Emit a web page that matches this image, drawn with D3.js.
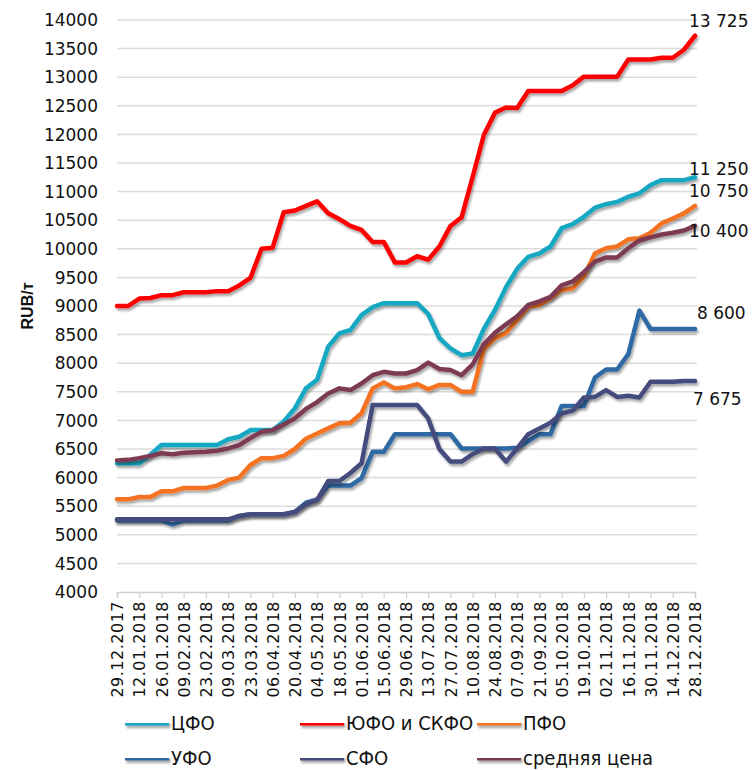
<!DOCTYPE html>
<html>
<head>
  <meta charset="UTF-8">
  <title>RUB/т</title>
  <style>
    body { margin: 0; background: #fff; }
    .ylab, .endlab { font-family: 'DejaVu Sans', sans-serif; font-size: 17px; fill: #111; }
    .xlab { font-family: 'DejaVu Sans', sans-serif; font-size: 16px; fill: #111; letter-spacing: 0.5px; }
    .legend text { font-family: 'Liberation Sans Narrow', 'DejaVu Sans Condensed', sans-serif; font-size: 20px; fill: #111; }
    .ytitle { font-family: 'Liberation Sans', sans-serif; font-weight: bold; font-size: 16px; fill: #111; }
    .grid line { stroke: #dcdcdc; stroke-width: 1.5; }
    .series { fill: none; stroke-width: 4.5; stroke-linejoin: round; stroke-linecap: round; }
  </style>
</head>
<body>
  <script src="https://d3js.org/d3.v7.min.js"></script>
  <script>
    // weekly points, 29.12.2017 .. 28.12.2018
    var tickLabels = ["29.12.2017", "12.01.2018", "26.01.2018", "09.02.2018", "23.02.2018", "09.03.2018",
      "23.03.2018", "06.04.2018", "20.04.2018", "04.05.2018", "18.05.2018", "01.06.2018", "15.06.2018",
      "29.06.2018", "13.07.2018", "27.07.2018", "10.08.2018", "24.08.2018", "07.09.2018", "21.09.2018",
      "05.10.2018", "19.10.2018", "02.11.2018", "16.11.2018", "30.11.2018", "14.12.2018", "28.12.2018"];

    var cfo = [6250,6250,6250,6400,6570,6570,6570,6570,6570,6570,6670,6715,6830,6830,6830,6980,7210,7560,7710,8290,
      8520,8580,8840,8980,9050,9050,9050,9050,8860,8440,8260,8140,8170,8600,8930,9330,9650,9860,9920,10040,
      10360,10430,10560,10720,10780,10820,10910,10970,11115,11200,11200,11200,11250];
    var yufo = [9000,9000,9130,9140,9190,9190,9240,9240,9240,9260,9260,9360,9490,10000,10020,10640,10670,10750,10830,10620,
      10520,10400,10330,10120,10120,9760,9760,9870,9810,10040,10400,10550,11260,11990,12380,12470,12460,12760,12760,12760,
      12760,12860,13010,13010,13010,13010,13310,13310,13310,13340,13340,13480,13725];
    var pfo = [5620,5620,5660,5660,5760,5760,5820,5820,5820,5860,5960,6000,6220,6340,6340,6380,6500,6680,6770,6860,
      6950,6960,7125,7560,7665,7560,7580,7635,7545,7620,7620,7500,7500,8250,8440,8530,8760,8990,9020,9140,
      9280,9310,9520,9920,10010,10040,10165,10185,10280,10445,10530,10620,10750];
    var ufo = [5250,5250,5250,5250,5250,5180,5250,5250,5250,5250,5250,5330,5360,5360,5360,5360,5400,5560,5620,5860,
      5860,5860,5990,6450,6450,6760,6760,6760,6760,6760,6760,6510,6510,6510,6510,6510,6520,6640,6760,6760,
      7250,7250,7250,7750,7890,7890,8160,8920,8600,8600,8600,8600,8600];
    var sfo = [5270,5270,5270,5270,5270,5270,5270,5270,5270,5270,5270,5330,5360,5360,5360,5360,5400,5530,5610,5940,
      5940,6080,6250,7270,7270,7270,7270,7270,7035,6500,6280,6280,6410,6510,6510,6280,6510,6760,6860,6960,
      7120,7170,7400,7410,7530,7410,7430,7400,7675,7675,7675,7690,7690];
    var avg = [6300,6310,6340,6380,6425,6410,6435,6445,6450,6470,6510,6570,6690,6800,6830,6930,7035,7200,7320,7470,
      7560,7530,7645,7790,7850,7820,7820,7880,8010,7900,7880,7790,7980,8330,8530,8680,8820,9020,9080,9160,
      9360,9430,9590,9775,9850,9850,10010,10150,10200,10250,10280,10320,10400];

    var seriesNames = ["ЦФО", "ЮФО и СКФО", "ПФО", "УФО", "СФО", "средняя цена"];
    var seriesColors = ["#17a7c2", "#ff0000", "#f47320", "#2f69a3", "#454b7c", "#7c3b52"];
    var endLabels = ["11 250", "13 725", "10 750", "8 600", "7 675", "10 400"];
    var yTicks = d3.range(4000, 14001, 500);

    var series = [cfo, yufo, pfo, ufo, sfo, avg];

    var width = 755, height = 770;
    var margin = {top: 20, right: 60, bottom: 178, left: 117};

    var svg = d3.select("body").append("svg")
        .attr("width", width)
        .attr("height", height);

    // soft shadow under the lines, user space so flat legend lines keep it too
    var f = svg.append("defs").append("filter").attr("id", "shadow")
        .attr("filterUnits", "userSpaceOnUse")
        .attr("x", 0).attr("y", 0).attr("width", width).attr("height", height);
    f.append("feDropShadow")
        .attr("dx", 1.5).attr("dy", 2.5).attr("stdDeviation", 1.3)
        .attr("flood-color", "#000").attr("flood-opacity", 0.35);

    var x = d3.scaleLinear().domain([0, cfo.length - 1]).range([margin.left, width - margin.right]);
    var y = d3.scaleLinear().domain([4000, 14000]).range([height - margin.bottom, margin.top]);

    // grid
    svg.append("g").attr("class", "grid")
      .selectAll("line").data(yTicks.slice(1)).enter().append("line")
        .attr("x1", margin.left).attr("x2", width - margin.right + 2)
        .attr("y1", function(d) { return y(d); }).attr("y2", function(d) { return y(d); });

    // y labels
    svg.append("g").selectAll("text").data(yTicks).enter().append("text")
        .attr("class", "ylab")
        .attr("x", 98)
        .attr("y", function(d) { return y(d); })
        .attr("dy", "0.36em")
        .attr("text-anchor", "end")
        .text(function(d) { return d; });

    svg.append("text").attr("class", "ytitle")
        .attr("transform", "translate(33," + y(9000) + ") rotate(-90)")
        .attr("text-anchor", "middle")
        .text("RUB/т");

    // x axis
    var tickIdx = tickLabels.map(function(d, i) { return i * 2; });
    var xAxis = d3.axisBottom(x).tickValues(tickIdx).tickSize(6)
        .tickFormat(function(d) { return tickLabels[d / 2]; });
    var gx = svg.append("g")
        .attr("transform", "translate(0," + y(4000) + ")")
        .call(xAxis);
    gx.select(".domain").attr("stroke", "#d0d0d0").attr("stroke-width", 1.5);
    gx.selectAll(".tick line").attr("stroke", "#d0d0d0").attr("stroke-width", 1.2);
    gx.selectAll(".tick text")
        .attr("class", "xlab")
        .attr("transform", "rotate(-90)")
        .attr("x", -9).attr("y", 0).attr("dy", "0.36em")
        .style("text-anchor", "end");

    // lines
    var line = d3.line()
        .x(function(d, i) { return x(i); })
        .y(function(d) { return y(d); });

    svg.append("g").selectAll("path").data(series).enter().append("path")
        .attr("class", "series")
        .attr("filter", "url(#shadow)")
        .attr("stroke", function(d, i) { return seriesColors[i]; })
        .attr("d", line);

    // end labels
    var endPos = [[689, 175], [689, 27], [689, 197], [697, 319], [693, 405], [689, 237]];
    svg.append("g").selectAll("text").data(endLabels).enter().append("text")
        .attr("class", "endlab")
        .attr("x", function(d, i) { return endPos[i][0]; })
        .attr("y", function(d, i) { return endPos[i][1]; })
        .text(function(d) { return d; });

    // legend
    var legendX = [125, 300, 477];
    var legendY = [723, 758];
    var legend = svg.append("g").attr("class", "legend")
      .selectAll("g").data(seriesNames).enter().append("g")
        .attr("transform", function(d, i) {
          return "translate(" + legendX[i % 3] + "," + legendY[Math.floor(i / 3)] + ")";
        });
    legend.append("line")
        .attr("x1", 0).attr("x2", 44).attr("y1", 0).attr("y2", 0)
        .attr("stroke", function(d, i) { return seriesColors[i]; })
        .attr("stroke-width", 5)
        .attr("filter", "url(#shadow)");
    legend.append("text")
        .attr("x", 46).attr("dy", "0.35em")
        .text(function(d) { return d; });
  </script>
</body>
</html>
